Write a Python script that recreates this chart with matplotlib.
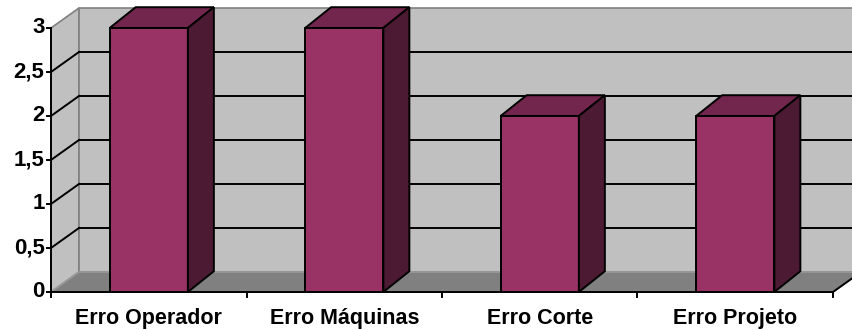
import matplotlib.pyplot as plt
from matplotlib.patches import Polygon

categorias = ['Erro Operador', 'Erro Máquinas', 'Erro Corte', 'Erro Projeto']
valores = [3, 3, 2, 2]
marcas_y = [0, 0.5, 1, 1.5, 2, 2.5, 3]
rotulos_y = ['0', '0,5', '1', '1,5', '2', '2,5', '3']

# deslocamento do efeito 3D (unidades de categoria / valor)
prof_x, prof_y = 0.143, 0.227
barra_dx, barra_dy = 0.133, 0.236
largura = 0.4

cor_frente = '#993366'
cor_topo = '#73264D'
cor_lado = '#4D1A33'
cor_parede = '#C0C0C0'
cor_piso = '#808080'

plt.rcParams['font.family'] = ['Liberation Sans', 'DejaVu Sans']

fig = plt.figure(figsize=(8.52, 3.30), dpi=100)
ax = fig.add_axes([0, 0, 1, 1])
ax.set_xlim(-0.2609, 4.0972)
ax.set_ylim(-0.432, 3.318)
ax.axis('off')

n = len(categorias)
ymax = max(marcas_y)
lw = 1.4


def poligono(pts, face, borda, z, lw=lw):
    ax.add_patch(Polygon(pts, closed=True, facecolor=face, edgecolor=borda,
                         linewidth=lw, joinstyle='miter', zorder=z))


# paredes e piso
poligono([(0, 0), (0, ymax), (prof_x, ymax + prof_y), (prof_x, prof_y)],
         cor_parede, '#808080', 1, lw=1.2)
poligono([(prof_x, prof_y), (n + prof_x, prof_y),
          (n + prof_x, ymax + prof_y), (prof_x, ymax + prof_y)],
         cor_parede, '#808080', 1, lw=1.2)
poligono([(0, 0), (n, 0), (n + prof_x, prof_y), (prof_x, prof_y)],
         cor_piso, '#999999', 1, lw=1.2)

# linhas de grade
for v in marcas_y[1:-1]:
    ax.plot([prof_x, n + prof_x], [v + prof_y, v + prof_y], color='black', lw=lw, zorder=2)
    ax.plot([0, prof_x], [v, v + prof_y], color='black', lw=lw, zorder=2)

# eixos
ax.plot([0, 0], [0, ymax], color='black', lw=lw, zorder=3)
ax.plot([0, n], [0, 0], color='black', lw=lw, zorder=3)
ax.plot([n, n + prof_x], [0, prof_y], color='black', lw=lw, zorder=3)
for v, r in zip(marcas_y, rotulos_y):
    ax.plot([-0.02, 0], [v, v], color='black', lw=lw, zorder=3)
    ax.text(-0.033, v, r, ha='right', va='center', fontsize=16, fontweight='bold')
for i in range(n + 1):
    ax.plot([i, i], [0, -0.057], color='black', lw=lw, zorder=3)

# barras
for i, (cat, v) in enumerate(zip(categorias, valores)):
    x0 = i + 0.5 - largura / 2
    x1 = x0 + largura
    poligono([(x0, 0), (x1, 0), (x1, v), (x0, v)], cor_frente, 'black', 4)
    poligono([(x0, v), (x1, v), (x1 + barra_dx, v + barra_dy), (x0 + barra_dx, v + barra_dy)],
             cor_topo, 'black', 4)
    poligono([(x1, 0), (x1 + barra_dx, barra_dy), (x1 + barra_dx, v + barra_dy), (x1, v)],
             cor_lado, 'black', 4)
    ax.text(i + 0.5, -0.364, cat, ha='center', va='baseline', fontsize=15.5, fontweight='bold')

fig.savefig('out.png', dpi=100)
